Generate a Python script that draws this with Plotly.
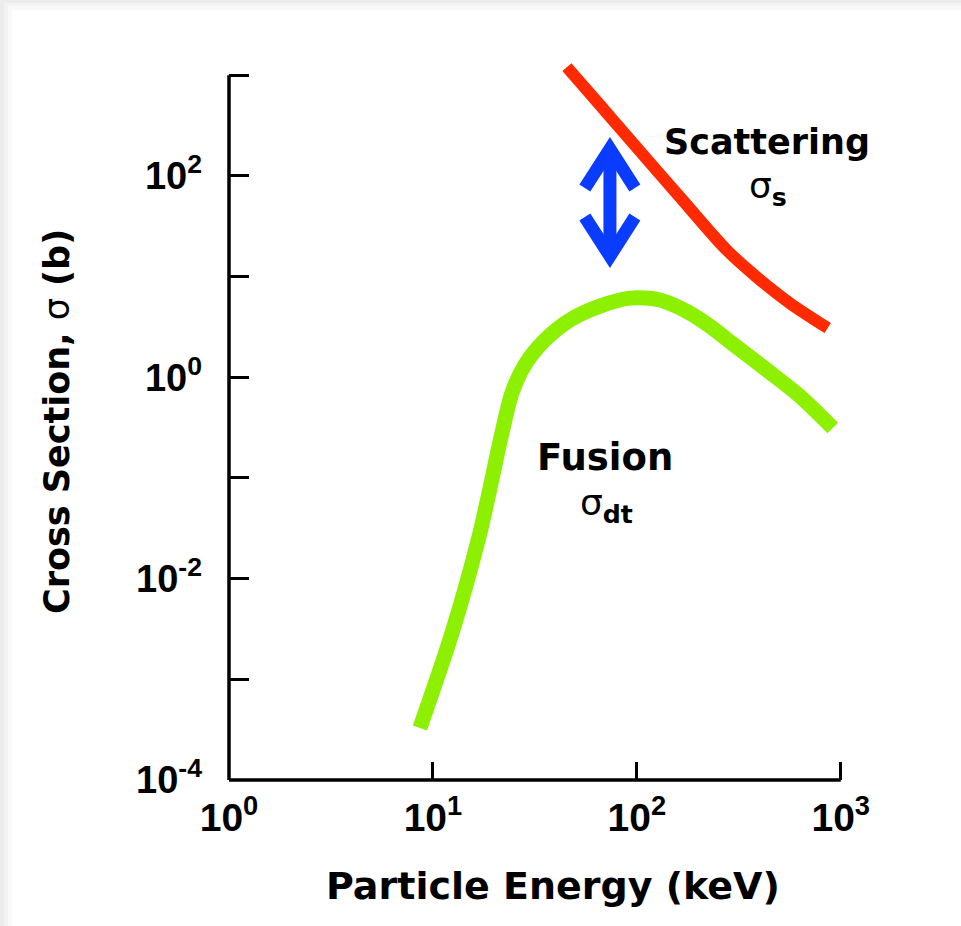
import plotly.graph_objects as go

# ---- data (keV, barns) ----
fusion_energy_kev = [8.63, 12.4, 17.0, 21.8, 24.4, 28.2, 35.4, 46.9, 65.9, 92.5, 130, 182, 228, 296, 434, 630, 914]
fusion_sigma_b = [3.28e-4, 2.88e-3, 0.0284, 0.279, 0.697, 1.32, 2.34, 3.70, 5.09, 6.11, 5.85, 4.34, 3.22, 2.14, 1.18, 0.65, 0.313]

scatter_energy_kev = [45.4, 65.9, 103.5, 162.5, 276, 387, 562, 863]
scatter_sigma_b = [1202, 505, 176, 61.7, 18.3, 9.89, 5.46, 3.08]

# double-headed arrow between the curves (keV, barns)
arrow_x = [55.6, 73.8, 97.8, None, 73.8, 73.8, None, 55.6, 73.8, 97.8]
arrow_y = [75.7, 184.6, 75.7, None, 184.6, 16.0, None, 39.0, 16.0, 39.0]

x_tick_vals = [1, 10, 100, 1000]
x_tick_text = ["10<sup>0</sup>", "10<sup>1</sup>", "10<sup>2</sup>", "10<sup>3</sup>"]
y_tick_vals = [1e-4, 1e-3, 1e-2, 1e-1, 1, 10, 100, 1000]
y_tick_text = ["10<sup>-4</sup>", "", "10<sup>-2</sup>", "", "10<sup>0</sup>", "", "10<sup>2</sup>", ""]

X_RANGE = [0, 3.06]
Y_RANGE = [-4, 3.25]

fig = go.Figure()

fig.add_trace(go.Scatter(
    x=fusion_energy_kev, y=fusion_sigma_b, mode="lines",
    line=dict(color="#8cf000", width=15, shape="spline", smoothing=0.8),
    showlegend=False, hoverinfo="skip"))

fig.add_trace(go.Scatter(
    x=scatter_energy_kev, y=scatter_sigma_b, mode="lines",
    line=dict(color="#ff2a00", width=12, shape="spline", smoothing=0.8),
    showlegend=False, hoverinfo="skip"))

fig.add_trace(go.Scatter(
    x=arrow_x, y=arrow_y, mode="lines",
    line=dict(color="#0a3cff", width=13),
    showlegend=False, hoverinfo="skip"))

L, R, T, B = 229, 108, 50, 146
W, H = 961, 926
pw, ph = W - L - R, H - T - B


def px(xp):
    return (xp - L) / pw


def py(yp):
    return (H - B - yp) / ph


shapes = []
# soft gray frame/shadow at top-left
for (x0p, y0p, col) in [(0, 0, "#ececec"), (4, 3, "#f3f3f3"), (8, 6, "#f9f9f9"), (12, 10, "#ffffff")]:
    shapes.append(dict(type="rect", xref="paper", yref="paper",
                       x0=px(x0p), x1=px(W + 5), y0=py(y0p), y1=py(H + 5),
                       fillcolor=col, line=dict(width=0), layer="below"))

# axis lines (end at 10^3 on both axes)
shapes.append(dict(type="line", xref="x domain", yref="y domain",
                   x0=0, x1=(3 - X_RANGE[0]) / (X_RANGE[1] - X_RANGE[0]), y0=0, y1=0,
                   line=dict(color="black", width=3.5)))
shapes.append(dict(type="line", xref="x domain", yref="y domain",
                   x0=0, x1=0, y0=0, y1=(3 - Y_RANGE[0]) / (Y_RANGE[1] - Y_RANGE[0]),
                   line=dict(color="black", width=3.5)))

title_font = dict(family="DejaVu Sans", color="black", weight="bold")

annotations = [
    dict(text="Particle Energy (keV)", xref="paper", yref="paper",
         x=px(553), y=py(886), showarrow=False, xanchor="center", yanchor="middle",
         font=dict(size=38, **title_font)),
    dict(text="Cross Section, <span style='font-weight:normal'>σ</span> (b)", xref="paper", yref="paper",
         x=px(57), y=py(422), showarrow=False, xanchor="center", yanchor="middle",
         textangle=-90, font=dict(size=35, **title_font)),
    dict(text="Scattering", xref="paper", yref="paper",
         x=px(767), y=py(142), showarrow=False, xanchor="center", yanchor="middle",
         font=dict(size=35, **title_font)),
    dict(text="σ<sub><b>s</b></sub>", xref="paper", yref="paper",
         x=px(768), y=py(188), showarrow=False, xanchor="center", yanchor="middle",
         font=dict(size=36, family="DejaVu Sans", color="black")),
    dict(text="Fusion", xref="paper", yref="paper",
         x=px(605), y=py(458), showarrow=False, xanchor="center", yanchor="middle",
         font=dict(size=37, **title_font)),
    dict(text="σ<sub><b>dt</b></sub>", xref="paper", yref="paper",
         x=px(606), y=py(505), showarrow=False, xanchor="center", yanchor="middle",
         font=dict(size=36, family="DejaVu Sans", color="black")),
]

y_tick_font = dict(family="Liberation Sans", size=38, color="black", weight="bold")
x_tick_font = dict(family="Liberation Sans", size=39, color="black", weight="bold")

fig.update_layout(
    width=W, height=H, autosize=False,
    margin=dict(l=L, r=R, t=T, b=B, pad=0),
    paper_bgcolor="#ececec", plot_bgcolor="rgba(0,0,0,0)",
    shapes=shapes, annotations=annotations,
    xaxis=dict(type="log", range=X_RANGE, tickvals=x_tick_vals, ticktext=x_tick_text,
               ticks="inside", ticklen=18, tickwidth=3, tickcolor="black",
               showgrid=False, zeroline=False, showline=False,
               tickfont=x_tick_font, ticklabelstandoff=11),
    yaxis=dict(type="log", range=Y_RANGE, tickvals=y_tick_vals, ticktext=y_tick_text,
               ticks="inside", ticklen=20, tickwidth=3, tickcolor="black",
               showgrid=False, zeroline=False, showline=False,
               tickfont=y_tick_font, ticklabelstandoff=26),
)

fig.write_html("out.html",
               config={"displayModeBar": False},
               post_script="document.body.style.margin='0';document.body.style.overflow='hidden';")
